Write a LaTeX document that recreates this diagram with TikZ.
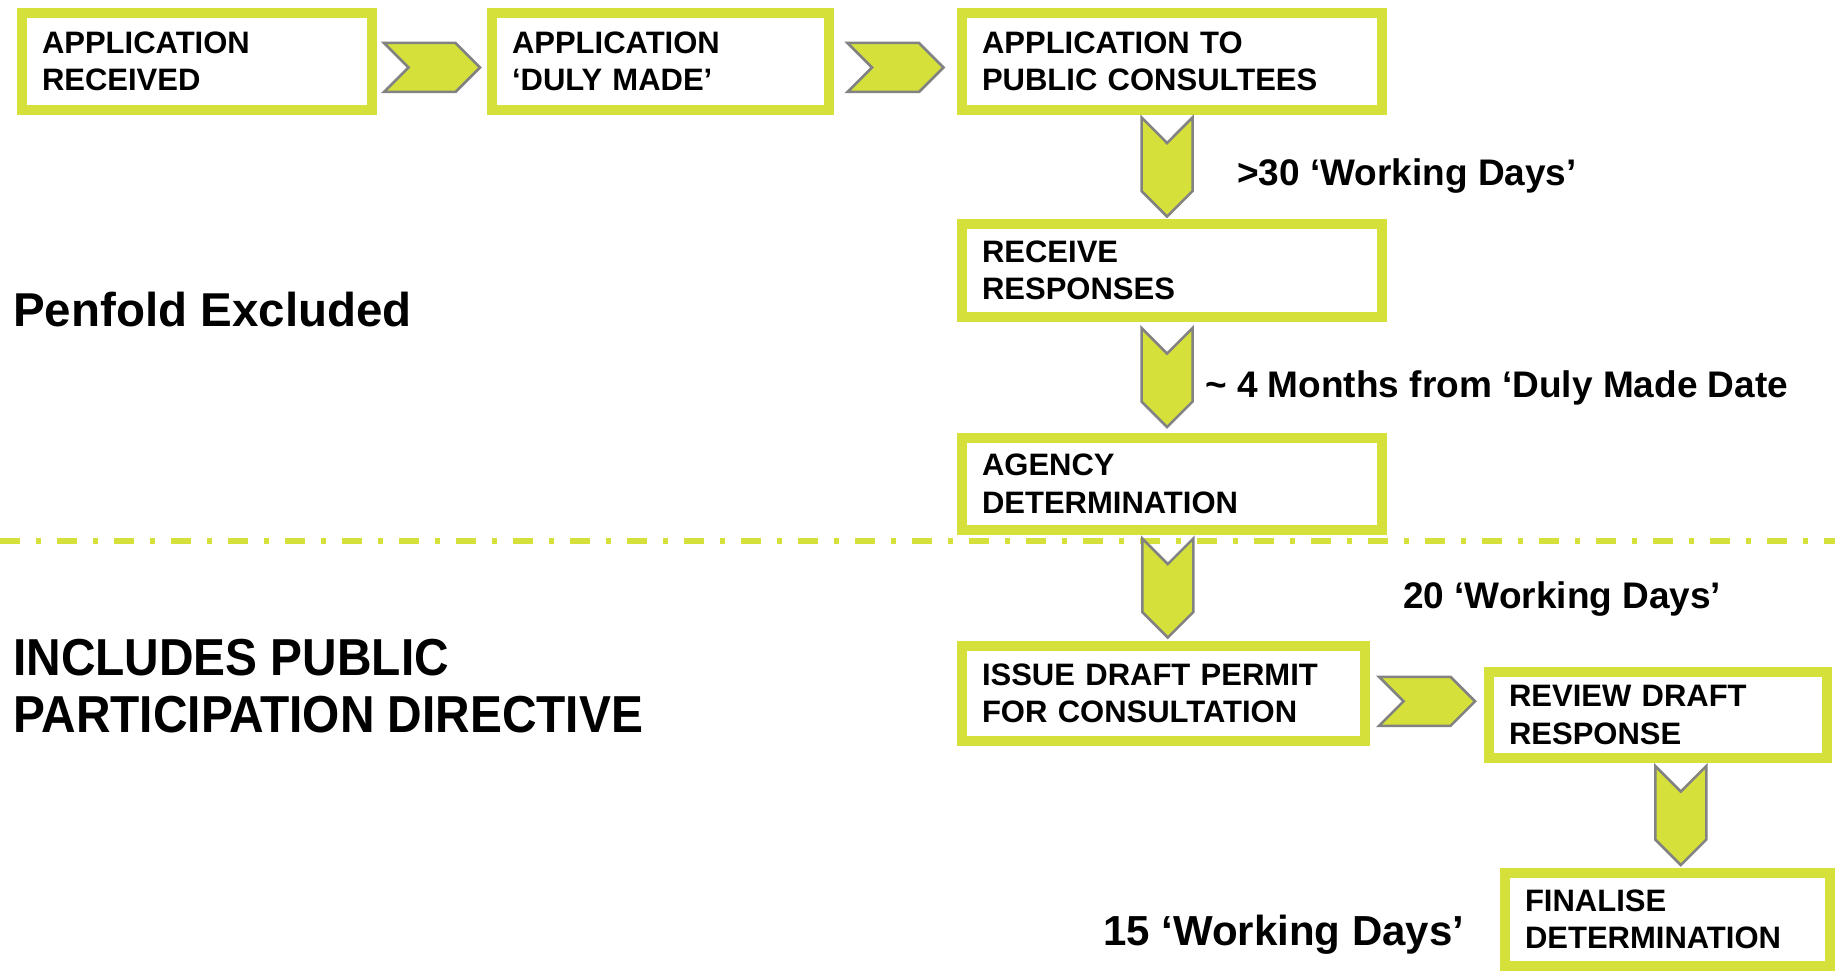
\documentclass[tikz,border=0pt]{standalone}
\usepackage{fontspec}
\setmainfont{Liberation Sans}
\newfontfamily\narrowsans[FakeStretch=0.92]{Liberation Sans}
\usetikzlibrary{shapes.symbols,calc}

\definecolor{permitlime}{RGB}{213,224,59}
\definecolor{chevgray}{RGB}{130,130,130}

\tikzset{
  stepbox/.style={draw=permitlime, line width=10pt, fill=white, inner xsep=20pt, inner ysep=0pt,
    align=left, font=\fontsize{31}{37.5}\selectfont\bfseries},
  chevR/.style={signal, signal from=west, signal to=east, fill=permitlime, draw=chevgray,
    line width=2.5pt, inner sep=0pt, minimum width=96pt, minimum height=49pt},
  chevD/.style={signal, signal from=north, signal to=south, fill=permitlime, draw=chevgray,
    line width=2.5pt, inner sep=0pt, minimum width=51pt, minimum height=48pt},
  daylabel/.style={anchor=base west, inner sep=0pt, font=\fontsize{37}{44}\selectfont\bfseries},
  sepline/.style={draw=permitlime, line width=6pt, dash pattern=on 20pt off 16pt on 5pt off 16pt}
}

\begin{document}
\begin{tikzpicture}[x=1pt, y=-1pt]
 \useasboundingbox (0,0) rectangle (1835,971);

 % separator between the two routes
 \coordinate (sepL) at (0,541);
 \coordinate (sepR) at (1835,541);
 \draw [sepline] (sepL) -- (sepR);

 % steps
 \node [stepbox, minimum width=350, minimum height=97, text width=310] (recv) at (197,61.5) {APPLICATION\\RECEIVED};
 \node [stepbox, minimum width=337, minimum height=97, text width=297] (duly) at (660.5,61.5) {APPLICATION\\‘DULY MADE’};
 \node [stepbox, minimum width=420, minimum height=97, text width=380] (consult) at (1172,61.5) {APPLICATION TO\\PUBLIC CONSULTEES};
 \node [stepbox, minimum width=420, minimum height=93, text width=380] (resp) at (1172,270.5) {RECEIVE\\RESPONSES};
 \node [stepbox, minimum width=420, minimum height=92, text width=380] (agency) at (1172,484) {AGENCY\\DETERMINATION};
 \node [stepbox, minimum width=403, minimum height=95, text width=363] (draft) at (1163.5,693.5) {ISSUE DRAFT PERMIT\\FOR CONSULTATION};
 \node [stepbox, minimum width=338, minimum height=86, text width=298] (review) at (1658,715) {REVIEW DRAFT\\RESPONSE};
 \node [stepbox, minimum width=325, minimum height=93, text width=285] (final) at (1667.5,919.5) {FINALISE\\DETERMINATION};

 % chevrons
 \node [chevR, yshift=-6pt] (c12) at ($(recv.east)!.5!(duly.west)$) {};
 \node [chevR, yshift=-6pt] (c23) at ($(duly.east)!.5!(consult.west)$) {};
 \node [chevD, xshift=-5pt] (c34) at ($(consult.south)!.5!(resp.north)$) {};
 \node [chevD, xshift=-5pt] (c45) at ($(resp.south)!.5!(agency.north)$) {};
 \node [chevD] (c56) at ($(agency.south)!.5!(draft.north)$) {};
 \node [chevR, yshift=3pt] (c67) at ($(draft.east)!.5!(review.west)$) {};
 \node [chevD, xshift=18pt] (c78) at ($(review.south)!.5!(final.north)$) {};

 % times
 \node [daylabel] (d30) at (1237,185) {>30 ‘Working Days’};
 \node [daylabel] (d4m) at (1205,397) {\textasciitilde{} 4 Months from ‘Duly Made Date};
 \node [daylabel] (d20) at (1403,608) {20 ‘Working Days’};
 \node [daylabel, font=\fontsize{42}{48}\selectfont\bfseries] (d15) at (1103,945) {15 ‘Working Days’};

 % routes
 \node [anchor=base west, inner sep=0pt, font=\fontsize{47.5}{55}\selectfont\bfseries] (excl) at (13,326) {Penfold Excluded};
 \node [anchor=north west, inner sep=0pt, align=left, font=\fontsize{52}{57}\selectfont\narrowsans\bfseries] (ppd) at (13,638.5) {INCLUDES PUBLIC\\PARTICIPATION DIRECTIVE};
\end{tikzpicture}
\end{document}
